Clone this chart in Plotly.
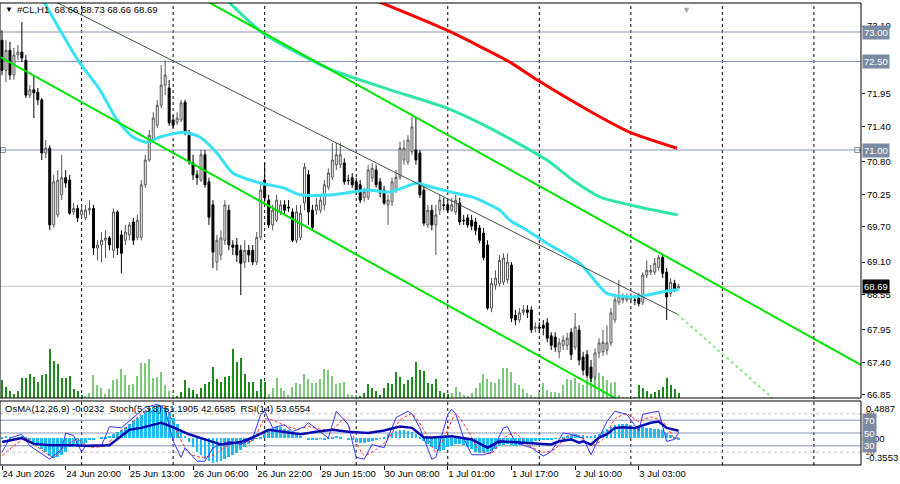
import plotly.graph_objects as go

FONT = "Liberation Sans, Arial, sans-serif"

# ---------------- data: H1 candles (bar index 0..170) ----------------
opens = [72.86, 72.35, 72.69, 72.27, 72.61, 72.66, 72.52, 71.93, 72.02, 71.98,
         71.85, 70.95, 71.03, 69.73, 69.90, 70.24, 70.53, 70.49, 69.95, 70.01,
         69.90, 69.85, 69.98, 70.01, 69.34, 69.39, 69.47, 69.51, 69.30, 69.95,
         69.56, 69.47, 69.56, 69.78, 69.52, 69.52, 70.41, 70.83, 71.17, 71.42,
         71.76, 72.10, 72.05, 71.51, 71.47, 71.51, 71.81, 71.25, 70.78, 70.58,
         70.49, 70.92, 70.46, 70.07, 69.10, 69.22, 69.47, 69.98, 69.39, 69.39,
         69.30, 69.10, 69.30, 69.30, 69.10, 69.52, 70.49, 70.15, 69.73, 69.81,
         69.95, 70.07, 70.03, 69.95, 69.47, 69.52, 70.10, 70.58, 69.98, 69.98,
         69.98, 70.07, 70.37, 70.54, 70.75, 70.75, 70.78, 70.49, 70.53, 70.46,
         70.41, 70.19, 70.20, 70.53, 70.66, 70.46, 70.32, 70.07, 70.12, 70.32,
         70.54, 70.83, 70.80, 70.97, 71.00, 70.95, 70.32, 69.73, 69.98, 69.73,
         69.98, 70.07, 70.07, 69.98, 69.95, 70.10, 69.81, 69.85, 69.81, 69.78,
         69.68, 69.59, 69.39, 68.32, 68.71, 68.74, 68.76, 68.80, 69.05, 68.20,
         68.12, 68.25, 68.29, 68.29, 67.98, 68.00, 68.03, 68.07, 67.85, 67.83,
         67.58, 67.69, 67.69, 67.91, 67.66, 67.95, 67.49, 67.53, 67.32, 67.15,
         67.56, 67.58, 67.61, 67.73, 68.12, 68.42, 68.46, 68.46, 68.47, 68.46,
         68.49, 68.42, 68.88, 68.93, 68.93, 69.01, 69.18, 68.93, 68.57, 68.74, 68.66]
highs = [73.03, 72.86, 72.83, 72.73, 72.78, 73.17, 72.61, 72.10, 72.27, 72.05,
         71.88, 71.17, 71.08, 70.58, 70.66, 70.92, 70.66, 70.58, 70.10, 70.07,
         70.07, 70.07, 70.15, 70.07, 69.47, 69.61, 69.64, 69.54, 70.01, 69.98,
         69.64, 69.73, 69.78, 69.85, 69.90, 70.49, 70.92, 71.34, 71.64, 71.85,
         72.44, 72.52, 72.19, 71.59, 71.64, 71.85, 71.85, 71.34, 70.92, 70.66,
         71.00, 71.00, 70.53, 70.15, 69.56, 69.64, 70.15, 70.07, 69.47, 69.51,
         69.39, 69.47, 69.39, 69.39, 69.61, 70.41, 70.78, 70.24, 70.07, 70.24,
         70.15, 70.15, 70.15, 70.01, 70.07, 70.07, 70.78, 70.66, 70.07, 70.19,
         70.24, 70.49, 70.69, 71.12, 71.12, 71.12, 70.86, 70.58, 70.61, 70.53,
         70.49, 70.36, 70.75, 70.78, 70.75, 70.53, 70.39, 70.24, 70.53, 70.66,
         71.14, 71.17, 71.25, 71.56, 71.56, 71.00, 70.41, 70.07, 70.07, 70.07,
         70.24, 70.19, 70.15, 70.19, 70.24, 70.19, 69.90, 69.91, 69.90, 69.85,
         69.73, 69.68, 69.47, 68.83, 68.96, 69.22, 69.25, 69.25, 69.10, 68.29,
         68.32, 68.37, 68.37, 68.35, 68.08, 68.08, 68.12, 68.15, 67.91, 67.91,
         67.81, 67.86, 67.90, 67.98, 68.24, 68.03, 67.58, 67.61, 67.44, 67.64,
         67.81, 67.95, 68.03, 68.32, 68.54, 68.80, 68.57, 68.57, 68.57, 68.54,
         68.57, 68.93, 69.13, 69.05, 69.17, 69.22, 69.22, 69.00, 68.83, 68.80, 68.73]
lows = [72.27, 72.15, 72.19, 72.19, 72.52, 72.49, 71.88, 71.88, 71.54, 71.76,
        70.83, 70.86, 69.64, 69.68, 69.86, 70.15, 70.36, 69.90, 69.90, 69.78,
        69.85, 69.81, 69.90, 69.22, 69.13, 69.10, 69.17, 69.30, 69.17, 69.22,
        68.91, 69.39, 69.47, 69.39, 69.47, 69.47, 70.36, 70.80, 71.14, 71.37,
        71.71, 71.93, 71.41, 71.37, 71.42, 71.47, 71.25, 70.75, 70.49, 70.41,
        70.46, 70.36, 69.73, 69.00, 68.96, 69.13, 69.39, 69.30, 69.22, 69.10,
        68.54, 69.00, 69.10, 69.05, 69.05, 69.47, 70.12, 69.68, 69.64, 69.78,
        69.90, 69.90, 69.95, 69.44, 69.42, 69.47, 69.98, 69.73, 69.64, 69.90,
        69.93, 69.98, 70.32, 70.49, 70.66, 70.69, 70.41, 70.41, 70.36, 70.24,
        70.10, 70.12, 70.15, 70.46, 70.36, 70.20, 70.07, 69.73, 70.05, 70.27,
        70.49, 70.75, 70.75, 70.92, 70.75, 70.19, 69.71, 69.68, 69.64, 69.22,
        69.90, 69.98, 69.93, 69.95, 69.90, 69.73, 69.73, 69.68, 69.64, 69.56,
        69.42, 69.13, 68.29, 68.25, 68.63, 68.69, 68.71, 68.74, 68.08, 68.03,
        68.07, 68.20, 68.15, 67.90, 67.91, 67.90, 67.86, 67.74, 67.61, 67.58,
        67.47, 67.61, 67.61, 67.44, 67.61, 67.35, 67.18, 67.13, 67.07, 67.10,
        67.47, 67.51, 67.53, 67.68, 68.07, 68.37, 68.40, 68.42, 68.40, 68.37,
        68.35, 68.37, 68.83, 68.88, 68.88, 68.96, 68.83, 68.12, 68.51, 68.59, 68.66]
closes = [72.35, 72.69, 72.27, 72.61, 72.66, 72.56, 71.93, 72.02, 71.97, 71.85,
          70.95, 71.03, 69.73, 70.46, 70.49, 70.53, 70.44, 69.93, 70.01, 69.85,
          69.98, 69.98, 70.01, 69.34, 69.39, 69.47, 69.51, 69.39, 69.95, 69.34,
          69.25, 69.61, 69.73, 69.47, 69.81, 70.41, 70.83, 71.25, 71.54, 71.76,
          72.10, 72.27, 71.46, 71.42, 71.54, 71.80, 71.29, 70.80, 70.58, 70.53,
          70.92, 70.41, 69.86, 69.27, 69.47, 69.51, 70.07, 69.39, 69.35, 69.22,
          69.08, 69.30, 69.22, 69.10, 69.52, 70.32, 70.19, 69.73, 69.98, 70.15,
          70.07, 69.98, 70.02, 69.47, 69.95, 69.93, 70.71, 69.95, 69.69, 70.07,
          70.15, 70.41, 70.61, 70.83, 70.92, 70.92, 70.46, 70.48, 70.41, 70.32,
          70.15, 70.29, 70.66, 70.69, 70.41, 70.27, 70.10, 70.15, 70.46, 70.54,
          71.03, 71.03, 71.17, 71.39, 70.83, 70.24, 69.76, 69.98, 69.73, 69.90,
          70.15, 70.06, 69.98, 70.07, 70.15, 69.78, 69.80, 69.73, 69.71, 69.64,
          69.47, 69.18, 68.32, 68.74, 68.83, 69.13, 69.17, 69.10, 68.15, 68.12,
          68.24, 68.29, 68.25, 67.95, 68.00, 67.98, 67.98, 67.81, 67.69, 67.66,
          67.73, 67.78, 67.81, 67.53, 68.00, 67.44, 67.27, 67.18, 67.13, 67.56,
          67.73, 67.74, 67.73, 68.24, 68.46, 68.52, 68.49, 68.49, 68.48, 68.45,
          68.40, 68.88, 68.96, 68.96, 69.08, 69.18, 68.91, 68.51, 68.76, 68.63, 68.69]
# tick volume, in hundreds
volumes = [18, 11, 7, 4, 7, 20, 20, 24, 21, 16, 23, 24, 49, 37, 34, 20, 20, 22, 9, 7, 3,
           2, 5, 23, 13, 10, 4, 9, 18, 19, 29, 23, 13, 14, 22, 35, 35, 39, 20, 21, 26, 13, 7, 3,
           2, 6, 18, 10, 8, 4, 10, 14, 16, 31, 19, 16, 21, 22, 49, 36, 40, 24, 16, 16, 7, 19, 16,
           4, 10, 20, 10, 7, 3, 11, 15, 14, 24, 19, 15, 15, 19, 29, 28, 22, 14, 15, 16, 4, 3, 3,
           2, 5, 14, 10, 7, 3, 10, 15, 14, 26, 21, 14, 18, 21, 36, 28, 27, 15, 14, 19, 7, 5, 4,
           5, 11, 6, 3, 2, 5, 10, 15, 24, 19, 16, 15, 19, 30, 30, 26, 15, 13, 9, 5, 3, 1, 6,
           15, 8, 6, 6, 5, 13, 19, 18, 20, 15, 13, 19, 22, 25, 25, 22, 18, 15, 16, 3, 1, 1,
           1, 1, 13, 10, 7, 4, 6, 8, 11, 20, 13, 9, 5]
volume_day_starts = [0, 21, 44, 67, 90, 113, 136, 159]
volume_day_shades = ["#1a8c1a", "#7cc97c", "#1a8c1a", "#7cc97c", "#1a8c1a", "#7cc97c", "#7cc97c", "#1a8c1a"]

# moving averages (bar, price)
ma_fast_bars = [10.3, 14.6, 19.1, 24.6, 28.9, 32.9, 36.4, 39.7, 45.5, 49.7, 54.0, 58.0, 64.8, 70.6,
                74.9, 83.2, 91.7, 97.5, 104.3, 105.8, 112.6, 118.3, 125.1, 127.6, 131.9, 136.9,
                145.2, 152.0, 157.8, 162.0, 167.1, 170.0]
ma_fast = [73.54, 73.03, 72.52, 72.02, 71.51, 71.22, 71.13, 71.22, 71.30, 71.22, 70.95, 70.61, 70.44,
           70.36, 70.24, 70.24, 70.32, 70.29, 70.44, 70.41, 70.29, 70.20, 69.98, 69.81, 69.64, 69.42,
           69.08, 68.57, 68.51, 68.54, 68.61, 68.63]
ma_mid_bars = [56.5, 65.6, 82.4, 97.5, 111.8, 122.6, 136.9, 144.0, 150.3, 160.3, 169.8]
ma_mid = [73.54, 72.98, 72.37, 72.02, 71.71, 71.37, 70.83, 70.46, 70.20, 70.03, 69.90]
ma_slow_bars = [93.7, 111.8, 127.6, 134.4, 149.5, 157.8, 169.6]
ma_slow = [73.54, 73.03, 72.49, 72.19, 71.59, 71.30, 71.03]

# trend lines (bar, price)
upper_channel_bars = [51.0, 215.8]
upper_channel = [73.54, 67.36]
lower_channel_bars = [-0.5, 160.3]
lower_channel = [72.58, 66.56]
mid_line_bars = [12.6, 169.6]
mid_line = [73.54, 68.22]
mid_ext_bars = [169.6, 194.2]
mid_ext = [68.22, 66.76]

h_levels = [73.00, 72.50, 71.00]
last_price = 68.69

# oscillators
osma = [0.02, 0.03, 0.01, -0.01, 0.01, 0.03, 0.02, -0.02,
        -0.06, -0.10, -0.15, -0.19, -0.24, -0.26, -0.25,
        -0.22, -0.18, -0.12, -0.10, -0.11, -0.08,
        -0.06, -0.03, -0.02, 0.00, 0.01, 0.02, 0.03,
        0.05, 0.08, 0.10, 0.14, 0.18, 0.22, 0.26, 0.30, 0.35, 0.39, 0.42, 0.44, 0.43, 0.40,
        0.34, 0.26, 0.18, 0.10, 0.03,
        -0.05, -0.12, -0.18, -0.22, -0.27, -0.30, -0.33, -0.32, -0.30, -0.27, -0.25, -0.22, -0.20, -0.16, -0.12, -0.08,
        -0.04, -0.01, 0.02,
        0.06, 0.10, 0.13, 0.14, 0.14, 0.12, 0.10, 0.07, 0.05, 0.03,
        0.00, -0.02, -0.03, -0.02, -0.01, -0.02, -0.01, 0.01,
        0.03, 0.02, 0.00, -0.02, -0.03,
        -0.05, -0.06, -0.06, -0.05, -0.04, -0.03, -0.01,
        0.02, 0.05, 0.07, 0.09, 0.10, 0.10, 0.09, 0.08, 0.05,
        0.01, -0.04, -0.08, -0.12, -0.15, -0.17, -0.16, -0.12,
        -0.10, -0.08, -0.08, -0.09, -0.12,
        -0.15, -0.18, -0.20, -0.20, -0.19, -0.17, -0.14,
        -0.11, -0.09, -0.08, -0.09, -0.10, -0.09, -0.08, -0.06, -0.05,
        -0.04, -0.03, -0.03, -0.02, -0.02, -0.01, 0.00,
        0.02, 0.03, 0.04, 0.05, 0.04, 0.04, 0.03, 0.03, 0.04,
        0.06, 0.09, 0.12, 0.15, 0.17, 0.19, 0.19, 0.18,
        0.17, 0.15, 0.14, 0.14, 0.13, 0.13, 0.12, 0.12, 0.11,
        0.07, 0.04, 0.01, -0.0232]
rsi_bars = [0, 5, 8, 12, 17, 21, 27, 32, 35, 40, 43, 47, 50, 55, 60, 63, 67, 71, 75, 79, 83, 87,
            92, 96, 100, 103, 106, 108, 113, 118, 122, 125, 129, 133, 138, 140, 143, 145, 146, 148,
            150, 152, 154, 156, 159, 160, 163, 165, 167, 170]
rsi = [36, 42, 33, 31, 31, 30, 31, 55, 58, 66, 59, 48, 42, 32, 36, 43, 55, 51, 48, 52, 55, 52,
       50, 54, 60, 58, 43, 43, 45, 40, 27, 37, 35, 34, 32, 37, 40, 35, 37, 32,
       43, 48, 58, 59, 58, 60, 66, 68, 58, 53.6554]
stoch_bars = [0, 2, 5, 7, 12, 15, 16, 18, 20, 21, 25, 27, 30, 33, 36, 39, 41, 43, 45, 46, 49, 51,
              53, 57, 60, 63, 65, 66, 68, 71, 73, 76, 77, 80, 82, 84, 87, 89, 91, 93, 96, 99, 102,
              103, 105, 108, 109, 112, 113, 114, 116, 118, 121, 123, 126, 127, 129, 133, 136, 138,
              141, 143, 146, 148, 150, 152, 154, 157, 160, 161, 163, 165, 167, 169, 170]
stoch_main = [20, 42, 48, 30, 9, 25, 50, 46, 20, 30, 30, 60, 58, 74, 90, 95, 87, 37, 12, 27, 6, 6,
              27, 37, 32, 42, 79, 84, 58, 63, 52, 60, 66, 52, 42, 84, 63, 12, 9, 32, 27, 74, 84,
              80, 58, 9, 12, 79, 87, 80, 42, 16, 16, 20, 58, 60, 35, 27, 14, 21,
              50, 48, 42, 16, 42, 68, 84, 79, 53, 79, 82, 84, 37, 40, 51.1905]
signal_bars = [0, 3, 6, 9, 13, 16, 19, 22, 26, 29, 32, 35, 38, 41, 44, 47, 50, 53, 57, 60, 63, 66,
               68, 71, 74, 77, 80, 83, 86, 89, 91, 94, 97, 100, 103, 106, 109, 112, 114, 117, 120,
               123, 126, 129, 132, 136, 139, 142, 145, 148, 151, 154, 157, 160, 163, 166, 169, 170]
stoch_signal = [15, 30, 42, 28, 12, 30, 40, 28, 30, 50, 62, 80, 90, 92, 50, 18, 12, 15, 32, 35, 38, 72,
                70, 62, 56, 60, 56, 55, 72, 35, 15, 24, 40, 70, 80, 55, 20, 55, 80, 55, 22,
                18, 42, 50, 32, 20, 25, 45, 45, 30, 40, 72, 80, 68, 75, 68, 42, 42.6585]

# axes labels
price_ticks = [66.85, 67.40, 67.95, 68.55, 69.10, 69.70, 70.25, 70.80, 71.40, 71.95, 73.10]
price_tick_labels = ["66.85", "67.40", "67.95", "68.55", "69.10", "69.70", "70.25", "70.80",
                     "71.40", "71.95", "73.10"]
time_label_bars = [0, 16, 32, 48, 64, 80, 96, 112, 128, 144, 160]
time_labels = ["24 Jun 2026", "24 Jun 20:00", "25 Jun 13:00", "26 Jun 06:00", "26 Jun 22:00",
               "29 Jun 15:00", "30 Jun 08:00", "1 Jul 01:00", "1 Jul 17:00", "2 Jul 10:00", "3 Jul 03:00"]
grid_bars = [20, 43, 66, 89, 112, 135, 158, 181, 204]

title_text = "#CL,H1  68.66 68.73 68.66 68.69"
sub_title_text = "OsMA(12,26,9) -0.0232  Stoch(5,3,3) 51.1905 42.6585  RSI(14) 53.6554"

# ---------------- figure ----------------
n = len(closes)
bars = list(range(n))
vol_colors = []
for b in bars:
    k = max(j for j, s in enumerate(volume_day_starts) if s <= b)
    vol_colors.append(volume_day_shades[k])

X_RANGE = [-0.5025, 215.83]
P_RANGE = [66.7966, 73.4915]
MAIN_BOTTOM = (465 - 398) / 462
SUB_TOP = (465 - 401) / 462

fig = go.Figure()
fig.add_trace(go.Bar(x=bars, y=volumes, marker=dict(color=vol_colors, line=dict(width=0)),
                     width=0.3, xaxis="x", yaxis="y", hoverinfo="skip"))
fig.add_trace(go.Candlestick(x=bars, open=opens, high=highs, low=lows, close=closes,
                             xaxis="x", yaxis="y3", whiskerwidth=0, hoverinfo="skip",
                             increasing=dict(line=dict(color="#555555", width=1), fillcolor="white"),
                             decreasing=dict(line=dict(color="black", width=1), fillcolor="black")))
fig.add_trace(go.Scatter(x=ma_slow_bars, y=ma_slow, mode="lines", xaxis="x", yaxis="y3",
                         line=dict(color="#FF0000", width=3, shape="spline", smoothing=0.6)))
fig.add_trace(go.Scatter(x=ma_mid_bars, y=ma_mid, mode="lines", xaxis="x", yaxis="y3",
                         line=dict(color="#2FE5A8", width=3, shape="spline", smoothing=0.6)))
fig.add_trace(go.Scatter(x=ma_fast_bars, y=ma_fast, mode="lines", xaxis="x", yaxis="y3",
                         line=dict(color="#38E2F4", width=3, shape="spline", smoothing=0.6)))
fig.add_trace(go.Scatter(x=upper_channel_bars, y=upper_channel, mode="lines", xaxis="x", yaxis="y3",
                         line=dict(color="#00E400", width=2)))
fig.add_trace(go.Scatter(x=lower_channel_bars, y=lower_channel, mode="lines", xaxis="x", yaxis="y3",
                         line=dict(color="#00E400", width=2)))
fig.add_trace(go.Scatter(x=mid_line_bars, y=mid_line, mode="lines", xaxis="x", yaxis="y3",
                         line=dict(color="#405040", width=1)))
fig.add_trace(go.Scatter(x=mid_ext_bars, y=mid_ext, mode="lines", xaxis="x", yaxis="y3",
                         line=dict(color="#8CEB8C", width=2, dash="3px,3px")))
fig.add_trace(go.Scatter(x=[0.2, 214.9], y=[h_levels[2], h_levels[2]], mode="markers", xaxis="x", yaxis="y3",
                         cliponaxis=False, marker=dict(symbol="square-open", size=5, color="#7A8AA2")))

# sub window
fig.add_trace(go.Bar(x=bars, y=osma, marker=dict(color="#1CBDF2", line=dict(width=0)), width=0.7,
                     xaxis="x2", yaxis="y2", hoverinfo="skip"))
fig.add_trace(go.Scatter(x=signal_bars, y=stoch_signal, mode="lines", xaxis="x2", yaxis="y4",
                         line=dict(color="#FF2A2A", width=1, dash="3px,2px", shape="spline", smoothing=0.5)))
fig.add_trace(go.Scatter(x=stoch_bars, y=stoch_main, mode="lines", xaxis="x2", yaxis="y4",
                         line=dict(color="#3535FF", width=1)))
fig.add_trace(go.Scatter(x=rsi_bars, y=rsi, mode="lines", xaxis="x2", yaxis="y4",
                         line=dict(color="#0A0AB0", width=2.5)))

shapes = []
for g in grid_bars:
    shapes.append(dict(type="line", xref="x", yref="paper", x0=g, x1=g, y0=0, y1=1, layer="below",
                       line=dict(color="black", width=1, dash="3px,3px")))
for lv in h_levels:
    shapes.append(dict(type="line", xref="paper", yref="y3", x0=0, x1=1, y0=lv, y1=lv, layer="below",
                       line=dict(color="#8795AC", width=1)))
shapes.append(dict(type="line", xref="paper", yref="y3", x0=0, x1=1, y0=last_price, y1=last_price,
                   layer="below", line=dict(color="#C4C4C4", width=1)))
for lv in [70, 50, 30]:
    shapes.append(dict(type="line", xref="paper", yref="y4", x0=0, x1=1, y0=lv, y1=lv, layer="below",
                       line=dict(color="#8795AC", width=1)))
for lv in [80, 20]:
    shapes.append(dict(type="line", xref="paper", yref="y4", x0=0, x1=1, y0=lv, y1=lv, layer="below",
                       line=dict(color="#C0C0C0", width=1, dash="3px,3px")))
shapes.append(dict(type="rect", xref="paper", yref="paper", x0=0, x1=1, y0=MAIN_BOTTOM, y1=1,
                   line=dict(color="black", width=1), layer="above"))
shapes.append(dict(type="rect", xref="paper", yref="paper", x0=0, x1=1, y0=0, y1=SUB_TOP,
                   line=dict(color="black", width=1), layer="above"))

ann = []
def txt(x, y, s, xref="paper", yref="paper", **kw):
    d = dict(x=x, y=y, xref=xref, yref=yref, text=s, showarrow=False, xanchor="left",
             yanchor="middle", font=dict(family=FONT, size=9.5, color="black"))
    d.update(kw)
    ann.append(d)

txt(0.004, (465 - 9) / 462, "▼", font=dict(family=FONT, size=8, color="black"))
txt(0.018, (465 - 9) / 462, title_text)
txt(0.004, (465 - 408) / 462, sub_title_text)
txt(172.1, 1.0, "▼", xref="x", yanchor="top", xanchor="center", font=dict(family=FONT, size=9, color="#AAAAAA"))
# sub window scale texts
txt(1.004, 0.4887, "0.4887", yref="y2", yanchor="top")
txt(1.004, 80, "80", yref="y4", font=dict(family=FONT, size=7.5, color="black"))
txt(1.004, 0, "0.00", yref="y2")
txt(1.004, 20, "20", yref="y4", font=dict(family=FONT, size=7.5, color="black"))
txt(1.004, -0.3553, "-0.3553", yref="y2", yanchor="bottom")
for lv in [70, 50, 30]:
    txt(1.0012, lv, str(lv), yref="y4", bgcolor="#7A8AA2", borderpad=1,
        font=dict(family=FONT, size=9.5, color="white"))
for lv in h_levels:
    txt(1.0012, lv, f"{lv:.2f}", yref="y3", bgcolor="#7A8AA2", borderpad=1,
        font=dict(family=FONT, size=9.5, color="white"))
txt(1.0012, last_price, f"{last_price:.2f}", yref="y3", bgcolor="black", borderpad=1,
    font=dict(family=FONT, size=9.5, color="white"))

fig.update_layout(
    width=900, height=484, margin=dict(l=0, r=39, t=3, b=19, autoexpand=False),
    paper_bgcolor="white", plot_bgcolor="white", showlegend=False, bargap=0,
    font=dict(family=FONT, size=9.5, color="black"),
    xaxis=dict(domain=[0, 1], range=X_RANGE, anchor="y", visible=False,
               rangeslider=dict(visible=False)),
    xaxis2=dict(domain=[0, 1], range=X_RANGE, anchor="y2", tickmode="array",
                tickvals=time_label_bars, ticktext=time_labels, ticks="outside", ticklen=4,
                tickcolor="black", ticklabelposition="outside right", tickangle=0, automargin=False,
                showgrid=False, zeroline=False, showline=False,
                tickfont=dict(family=FONT, size=9.5, color="black")),
    yaxis=dict(domain=[MAIN_BOTTOM, 1], range=[0, 395], visible=False, fixedrange=True),
    yaxis3=dict(overlaying="y", side="right", anchor="x", range=P_RANGE, tickmode="array",
                tickvals=price_ticks, ticktext=price_tick_labels, ticks="outside", ticklen=3,
                tickcolor="black", showgrid=False, zeroline=False, showline=False, automargin=False,
                tickfont=dict(family=FONT, size=9.5, color="black")),
    yaxis2=dict(domain=[0, SUB_TOP], range=[-0.3553, 0.4887], visible=False, anchor="x2"),
    yaxis4=dict(overlaying="y2", range=[0, 100], visible=False, anchor="x2"),
    shapes=shapes, annotations=ann,
)

fig.write_html("out.html")
